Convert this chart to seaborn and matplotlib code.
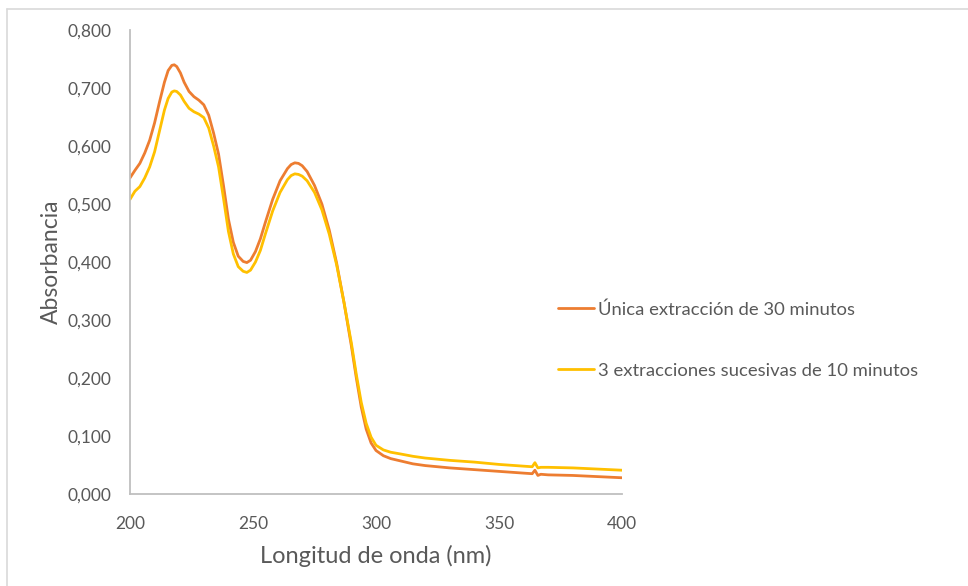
import numpy as np
import pandas as pd
import matplotlib
matplotlib.use("Agg")
import matplotlib.pyplot as plt
import seaborn as sns
from matplotlib.lines import Line2D
from matplotlib.ticker import FuncFormatter

# ---- data ----
wl_a = [200, 202, 204, 206, 208, 210, 212, 214, 215.5, 217, 218, 219, 220.5, 222, 224, 226, 228,
        230, 232, 234, 236, 238, 240, 242, 244, 246, 247.5, 249, 251, 253, 255, 258, 261, 264,
        265.5, 267, 268.5, 270, 272, 275, 278, 281, 284, 287, 290, 292, 294, 296, 298, 300, 303,
        306, 310, 315, 320, 330, 340, 350, 360, 363.5, 364.6, 365.8, 367, 370, 380, 390, 400]
abs_a = [0.545, 0.558, 0.570, 0.588, 0.610, 0.640, 0.676, 0.710, 0.730, 0.739, 0.740, 0.737,
         0.726, 0.710, 0.694, 0.685, 0.679, 0.671, 0.653, 0.622, 0.586, 0.532, 0.474, 0.434,
         0.410, 0.401, 0.399, 0.403, 0.418, 0.440, 0.468, 0.508, 0.540, 0.561, 0.568, 0.571,
         0.570, 0.566, 0.556, 0.532, 0.500, 0.455, 0.398, 0.330, 0.255, 0.200, 0.150, 0.112,
         0.088, 0.075, 0.066, 0.061, 0.057, 0.052, 0.049, 0.045, 0.042, 0.039, 0.036, 0.035,
         0.041, 0.032, 0.034, 0.033, 0.032, 0.030, 0.028]

wl_b = wl_a
abs_b = [0.508, 0.522, 0.530, 0.545, 0.564, 0.590, 0.626, 0.662, 0.682, 0.693, 0.695, 0.694,
         0.688, 0.677, 0.665, 0.659, 0.655, 0.649, 0.631, 0.600, 0.564, 0.510, 0.453, 0.414,
         0.392, 0.384, 0.382, 0.386, 0.400, 0.420, 0.448, 0.488, 0.520, 0.542, 0.549, 0.552,
         0.551, 0.548, 0.540, 0.520, 0.490, 0.448, 0.395, 0.330, 0.260, 0.206, 0.158, 0.122,
         0.098, 0.084, 0.076, 0.072, 0.069, 0.065, 0.062, 0.058, 0.055, 0.051, 0.048, 0.047,
         0.054, 0.045, 0.046, 0.046, 0.045, 0.043, 0.041]

series_names = ["Única extracción de 30 minutos", "3 extracciones sucesivas de 10 minutos"]
series_colors = ["#ED7D31", "#FFC000"]
x_ticks = [200, 250, 300, 350, 400]
y_ticks = [0.0, 0.1, 0.2, 0.3, 0.4, 0.5, 0.6, 0.7, 0.8]

df = pd.concat([
    pd.DataFrame({"wl": wl_a, "abs": abs_a, "serie": series_names[0]}),
    pd.DataFrame({"wl": wl_b, "abs": abs_b, "serie": series_names[1]}),
], ignore_index=True)

sns.set_theme(style="white")
plt.rcParams["font.family"] = ["Lato", "DejaVu Sans"]
txt = "#595959"

fig = plt.figure(figsize=(9.68, 5.86), dpi=100)
ax = fig.add_axes([130/968, 1-494/586, (622-130)/968, (494-30)/586])

sns.lineplot(data=df, x="wl", y="abs", hue="serie", hue_order=series_names,
             palette=series_colors, linewidth=2.0, ax=ax, sort=False, estimator=None)

ax.set_xlim(200, 400)
ax.set_ylim(0, 0.8)
ax.set_xticks(x_ticks)
ax.set_yticks(y_ticks)
ax.yaxis.set_major_formatter(FuncFormatter(lambda v, p: f"{v:.3f}".replace(".", ",")))
ax.tick_params(axis="both", length=0, labelsize=12.5, colors=txt)
ax.tick_params(axis="y", pad=13.5)
ax.tick_params(axis="x", pad=16)
for s in ["top", "right"]:
    ax.spines[s].set_visible(False)
for s in ["left", "bottom"]:
    ax.spines[s].set_color("#BFBFBF")
    ax.spines[s].set_linewidth(1.3)
ax.set_xlabel("Longitud de onda (nm)", fontsize=17, color=txt, labelpad=9)
ax.set_ylabel("Absorbancia", fontsize=16.5, color=txt, labelpad=4)

handles, labels = ax.get_legend_handles_labels()
ax.get_legend().remove()
leg = fig.legend(handles, labels, loc="center left", bbox_to_anchor=(541/968, 1-340/586),
                 frameon=False, fontsize=13.3, labelcolor=txt, labelspacing=2.45,
                 handlelength=1.95, handletextpad=0.22)

# chart-area border (top and left edges visible in the reference)
fig.add_artist(Line2D([7/968, 1.0], [1-9/586, 1-9/586], transform=fig.transFigure,
                      color="#D9D9D9", linewidth=1.2))
fig.add_artist(Line2D([7/968, 7/968], [0.0, 1-9/586], transform=fig.transFigure,
                      color="#D9D9D9", linewidth=1.2))

fig.savefig("out.png", dpi=100)
